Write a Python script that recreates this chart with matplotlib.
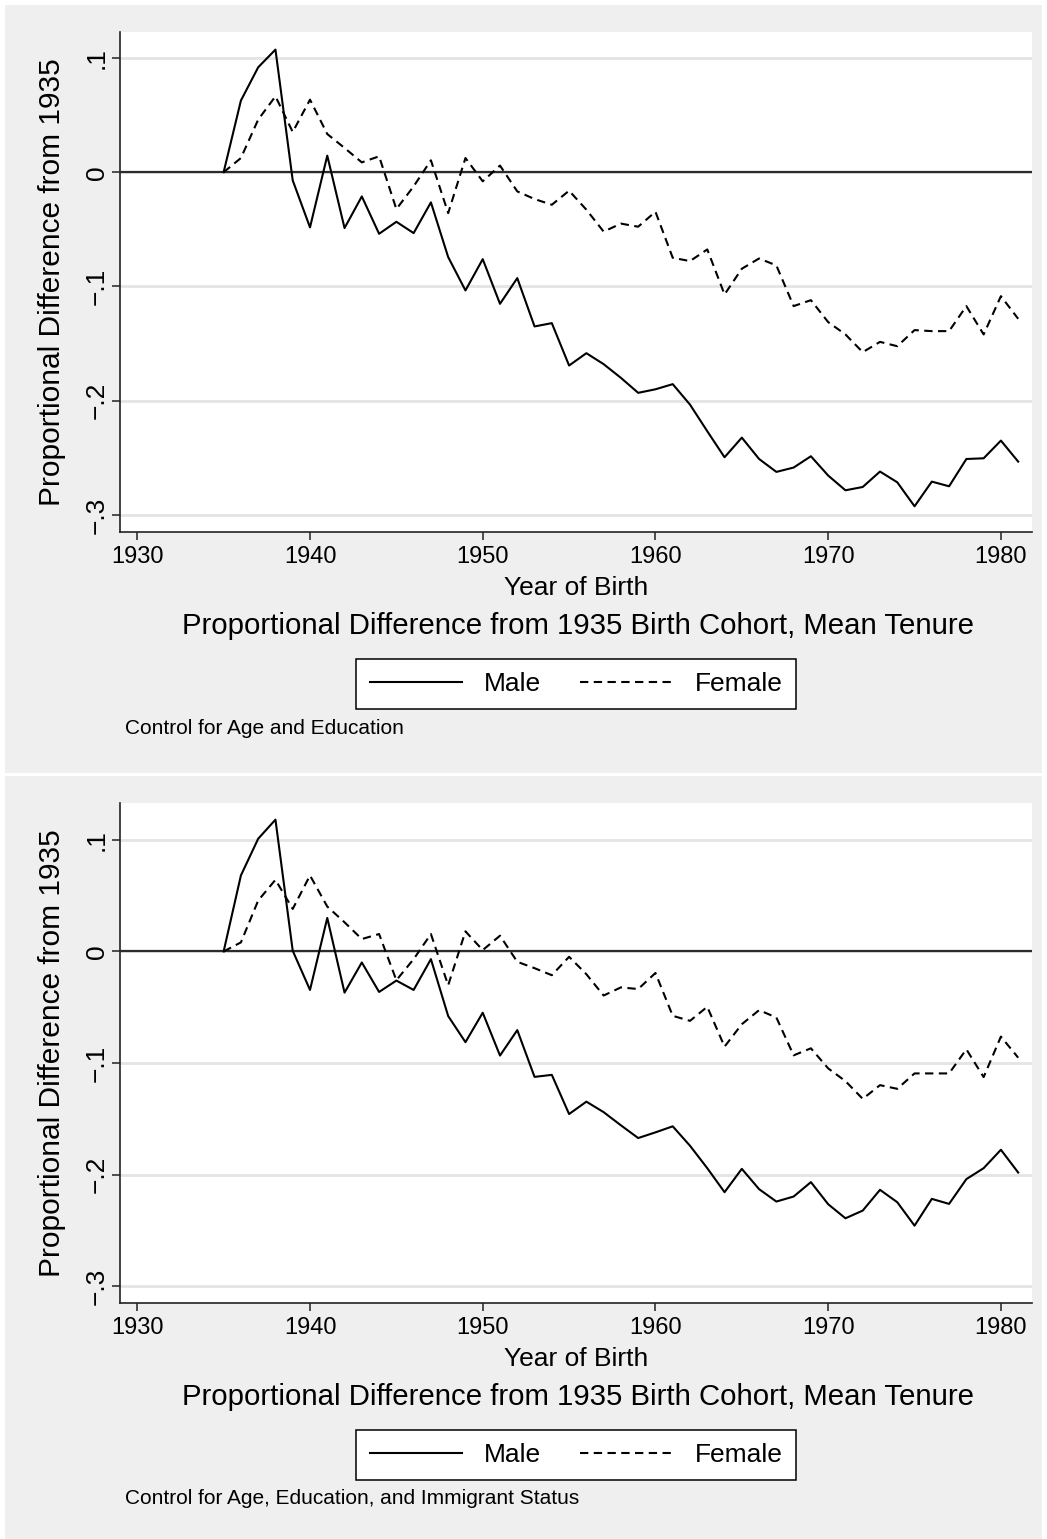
import matplotlib
matplotlib.use("Agg")
import matplotlib.pyplot as plt
import matplotlib.patches as patches

W, H = 1047, 1539

# Birth cohorts and proportional difference from the 1935 cohort
years = list(range(1935, 1982))

male_age_edu = [
    0.0, 0.0627, 0.0918, 0.1073, -0.0072, -0.0483, 0.0145, -0.0489, -0.0212, -0.0539,
    -0.0434, -0.0533, -0.0264, -0.0743, -0.1035, -0.0761, -0.1152, -0.0927, -0.1350, -0.1321,
    -0.1692, -0.1584, -0.1680, -0.1800, -0.1931, -0.1900, -0.1855, -0.2034, -0.2267, -0.2495,
    -0.2323, -0.2510, -0.2623, -0.2585, -0.2486, -0.2655, -0.2784, -0.2755, -0.2620, -0.2714,
    -0.2924, -0.2708, -0.2749, -0.2510, -0.2504, -0.2349, -0.2533,
]
female_age_edu = [
    0.0, 0.0124, 0.0460, 0.0664, 0.0352, 0.0635, 0.0334, 0.0212, 0.0086, 0.0139,
    -0.0323, -0.0124, 0.0104, -0.0358, 0.0124, -0.0080, 0.0058, -0.0168, -0.0235, -0.0285,
    -0.0162, -0.0328, -0.0520, -0.0450, -0.0477, -0.0346, -0.0749, -0.0778, -0.0676, -0.1070,
    -0.0845, -0.0755, -0.0816, -0.1172, -0.1120, -0.1312, -0.1420, -0.1575, -0.1485, -0.1523,
    -0.1382, -0.1391, -0.1391, -0.1172, -0.1420, -0.1085, -0.1283,
]
male_age_edu_imm = [
    0.0, 0.0681, 0.1010, 0.1181, 0.0006, -0.0345, 0.0300, -0.0369, -0.0099, -0.0363,
    -0.0261, -0.0345, -0.0069, -0.0579, -0.0813, -0.0549, -0.0933, -0.0705, -0.1124, -0.1106,
    -0.1457, -0.1346, -0.1440, -0.1558, -0.1672, -0.1621, -0.1567, -0.1741, -0.1942, -0.2157,
    -0.1948, -0.2130, -0.2241, -0.2196, -0.2067, -0.2265, -0.2391, -0.2322, -0.2136, -0.2247,
    -0.2457, -0.2217, -0.2262, -0.2040, -0.1942, -0.1777, -0.1981,
]
female_age_edu_imm = [
    0.0, 0.0081, 0.0456, 0.0642, 0.0381, 0.0681, 0.0402, 0.0261, 0.0111, 0.0156,
    -0.0258, -0.0069, 0.0156, -0.0303, 0.0180, 0.0012, 0.0141, -0.0093, -0.0150, -0.0213,
    -0.0048, -0.0204, -0.0395, -0.0322, -0.0337, -0.0193, -0.0577, -0.0622, -0.0496, -0.0853,
    -0.0652, -0.0526, -0.0592, -0.0931, -0.0868, -0.1048, -0.1162, -0.1321, -0.1198, -0.1231,
    -0.1093, -0.1093, -0.1093, -0.0877, -0.1126, -0.0763, -0.0952,
]

x_ticks = [1930, 1940, 1950, 1960, 1970, 1980]
y_ticks = [-0.3, -0.2, -0.1, 0.0, 0.1]
y_tick_labels = ["\u2212.3", "\u2212.2", "\u2212.1", "0", ".1"]

x_label = "Year of Birth"
y_label = "Proportional Difference from 1935"
title = "Proportional Difference from 1935 Birth Cohort, Mean Tenure"
notes = ["Control for Age and Education",
         "Control for Age, Education, and Immigrant Status"]

plt.rcParams['font.family'] = ['Liberation Sans', 'DejaVu Sans']

BG = '#efefef'
GRID = '#e4e4e4'


def fx(px):
    return px / W


def fy(py):
    return 1 - py / H


def draw_panel(fig, male, female, note, top, ylim):
    """One graph: gray region, plot area, titles, legend and note.
    top is the pixel row of the plot area's upper edge."""
    # gray graph region, kept underneath the axes
    box_top, box_bottom = top - 27, top + 741
    fig.patches.append(patches.Rectangle(
        (fx(5), fy(box_bottom)), fx(1037), (box_bottom - box_top) / H,
        transform=fig.transFigure, facecolor=BG, edgecolor='none', zorder=-5))

    ax = fig.add_axes([fx(120), fy(top + 500), fx(912), 500 / H])
    ax.set_facecolor('white')
    ax.set_zorder(2)

    ax.plot(years, male, color='black', lw=1.5, label='Male', zorder=4)
    ax.plot(years, female, color='black', lw=1.5, dashes=(4, 2.6),
            label='Female', zorder=4)
    ax.axhline(0, color='#2b2b2b', lw=1.6, zorder=3)

    ax.set_xlim(1929, 1981.8)
    ax.set_ylim(*ylim)
    ax.set_xticks(x_ticks)
    ax.set_yticks(y_ticks)
    ax.set_yticklabels(y_tick_labels)
    ax.grid(axis='y', color=GRID, lw=2, zorder=1)
    ax.grid(axis='x', visible=False)
    ax.set_axisbelow(True)

    for side in ['top', 'right']:
        ax.spines[side].set_visible(False)
    for side in ['left', 'bottom']:
        ax.spines[side].set_color('#222222')
        ax.spines[side].set_linewidth(1.2)

    ax.tick_params(direction='out', length=6, width=1.1, color='#222222',
                   labelsize=17, pad=4)
    ax.tick_params(axis='y', labelrotation=90, labelsize=19, pad=2)
    for lbl in ax.get_yticklabels():
        lbl.set_va('center')

    fig.text(fx(576), fy(top + 556), x_label, ha='center', va='center', fontsize=19)
    fig.text(fx(52), fy(top + 250), y_label, ha='center', va='center',
             rotation=90, fontsize=21.5)
    fig.text(fx(578), fy(top + 594), title, ha='center', va='center', fontsize=21.2)
    fig.text(fx(125), fy(top + 696), note, ha='left', va='center', fontsize=15)

    leg = ax.legend(loc='center', bbox_to_anchor=(fx(576), fy(top + 652)),
                    bbox_transform=fig.transFigure, ncol=2, fontsize=19,
                    frameon=True, fancybox=False, framealpha=1,
                    edgecolor='black', handlelength=3.5, handletextpad=0.85,
                    columnspacing=1.45, borderpad=0.5)
    leg.get_frame().set_linewidth(1.1)
    return ax


fig = plt.figure(figsize=(W / 100, H / 100), dpi=100)
fig.patch.set_facecolor('white')

draw_panel(fig, male_age_edu, female_age_edu, notes[0], 32, (-0.3149, 0.1227))
draw_panel(fig, male_age_edu_imm, female_age_edu_imm, notes[1], 803, (-0.315, 0.133))

fig.savefig('out.png', dpi=100, facecolor=fig.get_facecolor())
